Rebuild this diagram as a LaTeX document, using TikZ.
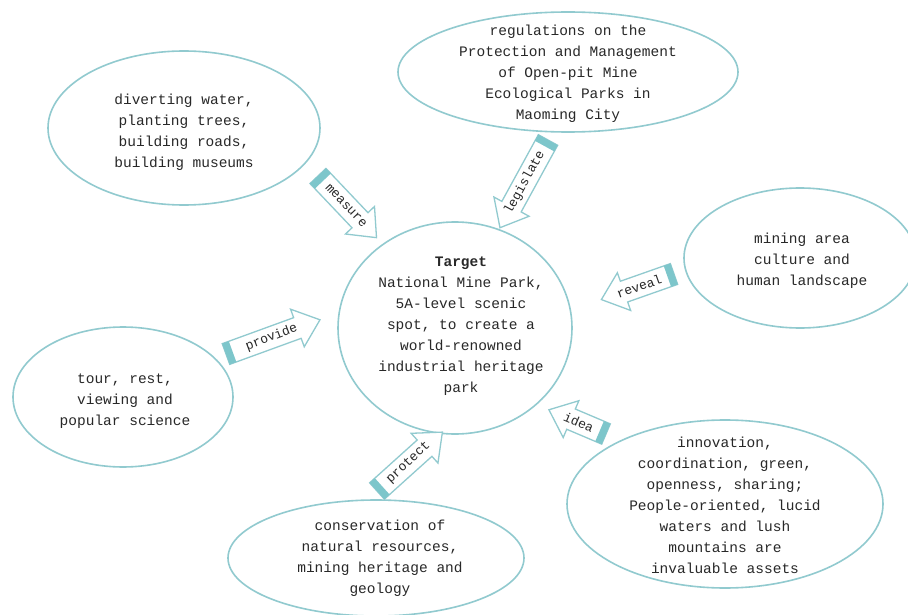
\documentclass[tikz,border=0pt]{standalone}
\usepackage{fontspec}
\setmonofont{Liberation Mono}
\usetikzlibrary{shapes.geometric}
\definecolor{tealline}{RGB}{145,202,207}
\definecolor{tealband}{RGB}{125,198,203}
\definecolor{txtcol}{RGB}{40,40,40}
\tikzset{
  ell/.style={ellipse, draw=tealline, line width=1.6pt, fill=white, inner sep=0pt},
  txt/.style={font=\ttfamily\fontsize{14.5}{21}\selectfont, text=txtcol, align=center, inner sep=0pt},
  atxt/.style={font=\ttfamily\fontsize{13}{15}\selectfont, text=txtcol, inner sep=0pt},
  pics/barrow/.style n args={3}{code={
    \draw[tealline, line width=1.3pt, fill=white, line join=miter]
      (0,-11) -- ({#1-24},-11) -- ({#1-24},-20) -- (#1,0) -- ({#1-24},20) -- ({#1-24},11) -- (0,11) -- cycle;
    \fill[tealband] (0,-11) rectangle (7,11);
    \node[atxt, rotate=#3] (-t) at ({(#1-17)/2+7},0) {#2};
  }}
}
\begin{document}
\begin{tikzpicture}[x=1pt,y=-1pt]
\useasboundingbox (0,0) rectangle (908,615);
\clip (0,0) rectangle (908,615);
\fill[white] (0,0) rectangle (908,615);

% ellipses
\node[ell, minimum width=340, minimum height=120] (eTop) at (568,72) {};
\node[txt] (tTop) at (568,74) {regulations on the\\Protection and Management\\of Open-pit Mine\\Ecological Parks in\\Maoming City};

\node[ell, minimum width=272, minimum height=154] (eTL) at (184,128) {};
\node[txt] (tTL) at (184,132) {diverting water,\\planting trees,\\building roads,\\building museums};

\node[ell, minimum width=232, minimum height=140] (eR) at (800,258) {};
\node[txt] (tR) at (802,261) {mining area\\culture and\\human landscape};

\node[ell, minimum width=234, minimum height=212] (eC) at (455,328) {};
\node[txt] (tC) at (461,326) {\textbf{Target}\\National Mine Park,\\5A-level scenic\\spot, to create a\\world-renowned\\industrial heritage\\park};

\node[ell, minimum width=220, minimum height=140] (eL) at (123,397) {};
\node[txt] (tL) at (125,401) {tour, rest,\\viewing and\\popular science};

\node[ell, minimum width=296, minimum height=116] (eB) at (376,558) {};
\node[txt] (tB) at (380,558) {conservation of\\natural resources,\\mining heritage and\\geology};

\node[ell, minimum width=316, minimum height=168] (eBR) at (725,504) {};
\node[txt] (tBR) at (725,505) {innovation,\\coordination, green,\\openness, sharing;\\People-oriented, lucid\\waters and lush\\mountains are\\invaluable assets};

% block arrows
\pic (measure) [rotate=-46.5] at (318,176) {barrow={85}{measure}{-46.5}};
\pic (legislate) [rotate=-118.7] at (548,140) {barrow={100}{legislate}{61.3}};
\pic (reveal) [rotate=-160.6] at (674,274) {barrow={77}{reveal}{19.4}};
\pic (provide) [rotate=20] at (226,354) {barrow={100}{provide}{21}};
\pic (protect) [rotate=42] at (377,491) {barrow={88}{protect}{43}};
\pic (idea) [rotate=157] at (606,434) {barrow={62}{idea}{-23}};
\end{tikzpicture}
\end{document}
